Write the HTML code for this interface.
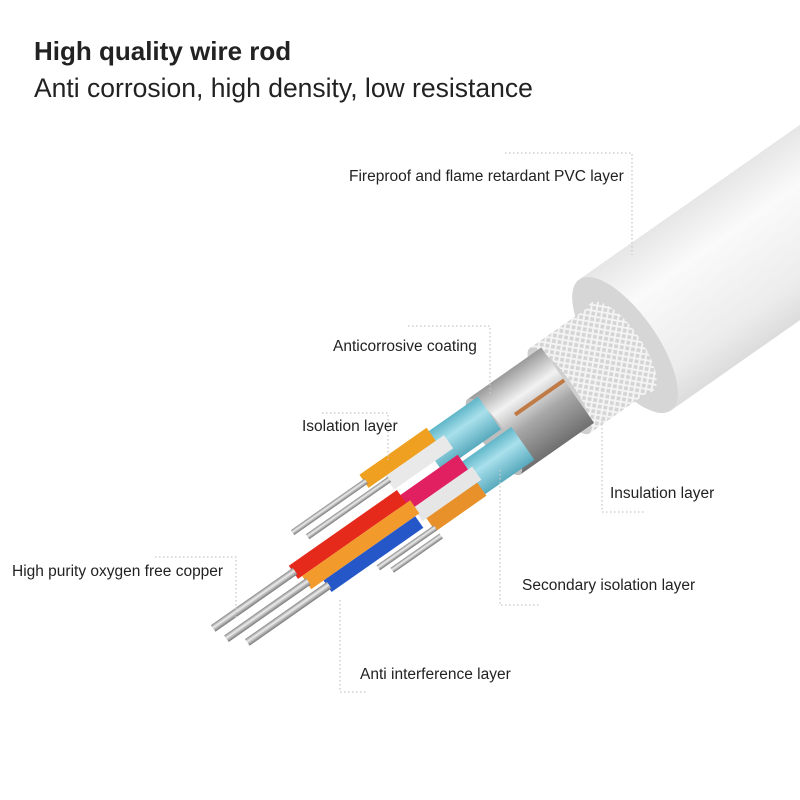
<!DOCTYPE html>
<html><head><meta charset="utf-8"><style>
body{margin:0;background:#fff}
svg{display:block}
text{font-family:"Liberation Sans",Arial,sans-serif;fill:#222}
.d{stroke:#c8c8c8;stroke-width:1.3;stroke-dasharray:1.5 2.5;fill:none}
</style></head><body>
<svg width="800" height="800" viewBox="0 0 800 800" xmlns="http://www.w3.org/2000/svg">
<defs>
<linearGradient id="jk" x1="0" y1="0" x2="0" y2="1">
<stop offset="0" stop-color="#e6e6e6"/><stop offset="0.3" stop-color="#fafafa"/><stop offset="0.8" stop-color="#ececec"/><stop offset="1" stop-color="#dcdcdc"/></linearGradient>
<linearGradient id="sv" x1="0" y1="0" x2="0" y2="1">
<stop offset="0" stop-color="#9a9a9a"/><stop offset="0.3" stop-color="#f2f2f2"/><stop offset="0.6" stop-color="#a8a8a8"/><stop offset="1" stop-color="#6f6f6f"/></linearGradient>
<linearGradient id="bl" x1="0" y1="0" x2="0" y2="1">
<stop offset="0" stop-color="#5fb6c8"/><stop offset="0.4" stop-color="#a9e0ec"/><stop offset="1" stop-color="#58aabd"/></linearGradient>
<linearGradient id="cu" x1="0" y1="0" x2="0" y2="1">
<stop offset="0" stop-color="#888"/><stop offset="0.4" stop-color="#eee"/><stop offset="1" stop-color="#777"/></linearGradient>
<pattern id="br" width="8" height="8" patternUnits="userSpaceOnUse">
<rect width="8" height="8" fill="#d4d4d4"/><path d="M0 8L8 0M0 0L8 8" stroke="#f4f4f4" stroke-width="2"/></pattern>
</defs>

<text x="34" y="60" font-size="26" font-weight="bold">High quality wire rod</text>
<text x="34" y="97" font-size="26.5">Anti corrosion, high density, low resistance</text>

<g transform="translate(625,345) rotate(-35)">
 <rect x="0" y="-80" width="420" height="160" fill="url(#jk)"/>
 <ellipse cx="0" cy="0" rx="32" ry="80" fill="#d6d6d6"/>
 <ellipse cx="-4" cy="0" rx="20" ry="54" fill="url(#br)"/>
 <rect x="-80" y="-52" width="76" height="104" fill="url(#br)"/>
 <ellipse cx="-80" cy="0" rx="14" ry="52" fill="#cfcfcf"/>
 <rect x="-160" y="-46" width="90" height="92" fill="url(#sv)"/>
 <ellipse cx="-160" cy="0" rx="12" ry="46" fill="#bdbdbd"/>
 <rect x="-130" y="-8" width="60" height="4" fill="#c07a45"/>
 <rect x="-222" y="-42" width="72" height="40" fill="url(#bl)"/>
 <rect x="-217" y="2" width="77" height="40" fill="url(#bl)"/>
 <g>
  <rect x="-292" y="-46" width="82" height="16" fill="#f0a020"/>
  <rect x="-272" y="-30" width="72" height="16" fill="#e9e9e9"/>
  <rect x="-282" y="-6" width="82" height="18" fill="#e02060"/>
  <rect x="-267" y="12" width="72" height="16" fill="#e6e6e6"/>
  <rect x="-262" y="28" width="62" height="16" fill="#e8902a"/>
  <rect x="-402" y="-12" width="132" height="16" fill="#e52a1c"/>
  <rect x="-397" y="4" width="132" height="16" fill="#f39a2c"/>
  <rect x="-382" y="20" width="112" height="14" fill="#2557c8"/>
  <rect x="-380" y="-40" width="90" height="6" fill="url(#cu)"/>
  <rect x="-370" y="-28" width="100" height="6" fill="url(#cu)"/>
  <rect x="-330" y="38" width="70" height="6" fill="url(#cu)"/>
  <rect x="-320" y="48" width="60" height="6" fill="url(#cu)"/>
  <rect x="-500" y="-8" width="100" height="8" fill="url(#cu)"/>
  <rect x="-495" y="8" width="100" height="8" fill="url(#cu)"/>
  <rect x="-480" y="23" width="100" height="8" fill="url(#cu)"/>
 </g>
</g>

<g font-size="15.5">
<text x="349" y="181">Fireproof and flame retardant PVC layer</text>
<text x="333" y="351">Anticorrosive coating</text>
<text x="302" y="431">Isolation layer</text>
<text x="610" y="498">Insulation layer</text>
<text x="522" y="590">Secondary isolation layer</text>
<text x="12" y="576">High purity oxygen free copper</text>
<text x="360" y="679">Anti interference layer</text>
</g>
<path class="d" d="M505 153H632V255"/>
<path class="d" d="M408 326H490V395"/>
<path class="d" d="M322 413H388V460"/>
<path class="d" d="M602 420V512H645"/>
<path class="d" d="M500 470V605H540"/>
<path class="d" d="M155 557H236V620"/>
<path class="d" d="M340 600V692H368"/>
</svg>
</body></html>
